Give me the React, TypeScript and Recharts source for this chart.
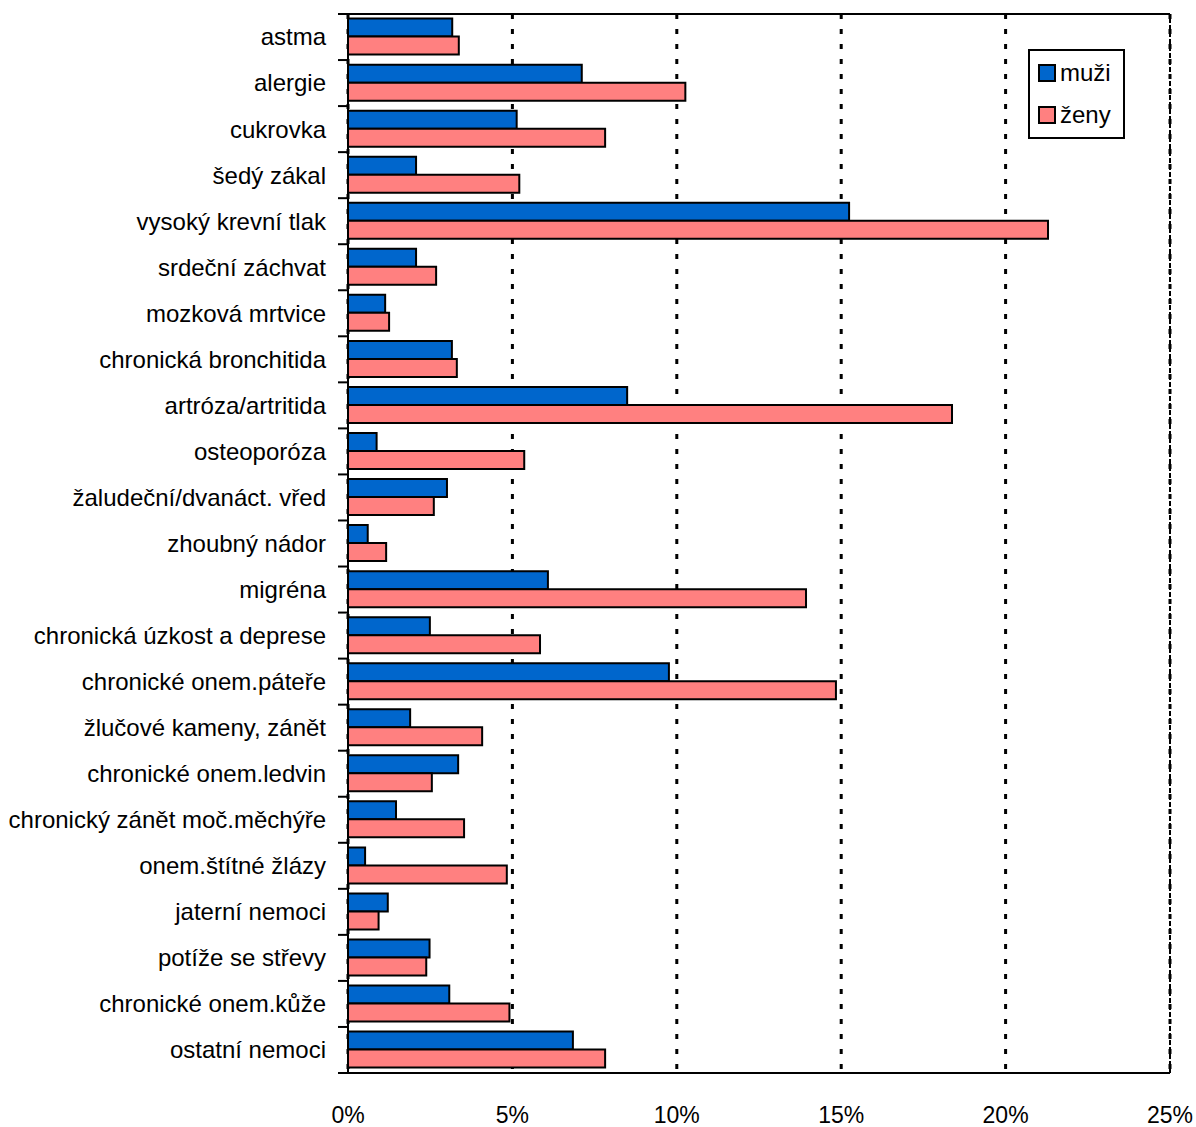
import React from 'react';
import {
  Bar,
  BarChart,
  CartesianGrid,
  Legend,
  ReferenceLine,
  XAxis,
  YAxis,
} from 'recharts';

const CATEGORIES = [
  'astma',
  'alergie',
  'cukrovka',
  'šedý zákal',
  'vysoký krevní tlak',
  'srdeční záchvat',
  'mozková mrtvice',
  'chronická bronchitida',
  'artróza/artritida',
  'osteoporóza',
  'žaludeční/dvanáct. vřed',
  'zhoubný nádor',
  'migréna',
  'chronická úzkost a deprese',
  'chronické onem.páteře',
  'žlučové kameny, zánět',
  'chronické onem.ledvin',
  'chronický zánět moč.měchýře',
  'onem.štítné žlázy',
  'jaterní nemoci',
  'potíže se střevy',
  'chronické onem.kůže',
  'ostatní nemoci',
];

const MUZI = [
  3.17, 7.11, 5.13, 2.07, 15.24, 2.07, 1.13, 3.16, 8.49, 0.87, 3.01, 0.6, 6.08,
  2.49, 9.76, 1.89, 3.35, 1.46, 0.52, 1.21, 2.48, 3.08, 6.84,
];

const ZENY = [
  3.37, 10.26, 7.82, 5.21, 21.29, 2.68, 1.25, 3.31, 18.37, 5.36, 2.61, 1.16,
  13.93, 5.84, 14.84, 4.08, 2.55, 3.53, 4.83, 0.93, 2.38, 4.91, 7.82,
];

const X_TICKS = [0, 5, 10, 15, 20, 25];

const BLUE = '#0066CC';
const PINK = '#FF8080';
const FONT = '"Liberation Sans", Arial, sans-serif';

const WIDTH = 1196;
const HEIGHT = 1127;
const MARGIN = { top: 13, right: 26, left: 0, bottom: 0 };
const X_AXIS_HEIGHT = 54;
const TOP_AXIS_HEIGHT = 1;
const BAND =
  (HEIGHT - MARGIN.top - MARGIN.bottom - X_AXIS_HEIGHT - TOP_AXIS_HEIGHT) / CATEGORIES.length;

const data = CATEGORIES.map((name, i) => ({ name, muzi: MUZI[i], zeny: ZENY[i] }));

function CategoryTick(props: any) {
  const { x, y, payload, index } = props;
  const half = BAND / 2;
  const last = index === CATEGORIES.length - 1;
  return (
    <g>
      <line x1={x + 12} x2={x + 22} y1={y - half} y2={y - half} stroke="#000" strokeWidth={2} />
      {last ? (
        <line x1={x + 12} x2={x + 22} y1={y + half} y2={y + half} stroke="#000" strokeWidth={2} />
      ) : null}
      <text
        x={x}
        y={y}
        dy="0.35em"
        textAnchor="end"
        fill="#000"
        fontSize={24}
        fontFamily={FONT}
      >
        {payload.value}
      </text>
    </g>
  );
}

function PercentTick(props: any) {
  const { x, y, payload } = props;
  return (
    <text
      x={x}
      y={y + 40}
      dy="0.35em"
      textAnchor="middle"
      fill="#000"
      fontSize={23}
      fontFamily={FONT}
    >
      {`${payload.value}%`}
    </text>
  );
}

function LegendBox() {
  const items = [
    { label: 'muži', color: BLUE },
    { label: 'ženy', color: PINK },
  ];
  return (
    <div
      style={{
        border: '2px solid #000',
        background: '#fff',
        padding: '1px 8px',
        fontFamily: FONT,
        fontSize: 24,
        lineHeight: '42px',
        boxSizing: 'border-box',
        width: 97,
      }}
    >
      {items.map((it) => (
        <div key={it.label} style={{ display: 'flex', alignItems: 'center' }}>
          <span
            style={{
              display: 'inline-block',
              width: 14,
              height: 14,
              background: it.color,
              border: '2px solid #000',
              marginRight: 4,
            }}
          />
          {it.label}
        </div>
      ))}
    </div>
  );
}

export default function App() {
  return (
    <div style={{ position: 'absolute', left: 0, top: 0, background: '#fff' }}>
      <BarChart
        width={WIDTH}
        height={HEIGHT}
        data={data}
        layout="vertical"
        margin={MARGIN}
        barCategoryGap="10%"
        barGap={0}
      >
        <CartesianGrid
          horizontal={false}
          stroke="#000"
          strokeWidth={3}
          strokeDasharray="5 10"
        />
        <XAxis
          type="number"
          domain={[0, 25]}
          ticks={X_TICKS}
          height={X_AXIS_HEIGHT}
          tickLine={false}
          tickSize={0}
          tick={<PercentTick />}
          axisLine={{ stroke: '#000', strokeWidth: 2 }}
          interval={0}
        />
        <XAxis
          xAxisId="top"
          type="number"
          orientation="top"
          domain={[0, 25]}
          ticks={X_TICKS}
          height={TOP_AXIS_HEIGHT}
          tick={false}
          tickLine={false}
          axisLine={{ stroke: '#000', strokeWidth: 2 }}
        />
        <YAxis
          type="category"
          dataKey="name"
          width={348}
          tickLine={false}
          tickSize={10}
          tickMargin={12}
          tick={<CategoryTick />}
          axisLine={{ stroke: '#000', strokeWidth: 2 }}
          interval={0}
        />
        <ReferenceLine x={25} stroke="#000" strokeWidth={2} strokeDasharray="5 2" />
        <Legend
          layout="vertical"
          align="center"
          verticalAlign="middle"
          content={<LegendBox />}
          wrapperStyle={{ left: 1028, top: 49, width: 97 }}
        />
        <Bar dataKey="muzi" name="muži" fill={BLUE} stroke="#000" strokeWidth={2} isAnimationActive={false} />
        <Bar dataKey="zeny" name="ženy" fill={PINK} stroke="#000" strokeWidth={2} isAnimationActive={false} />
      </BarChart>
    </div>
  );
}
